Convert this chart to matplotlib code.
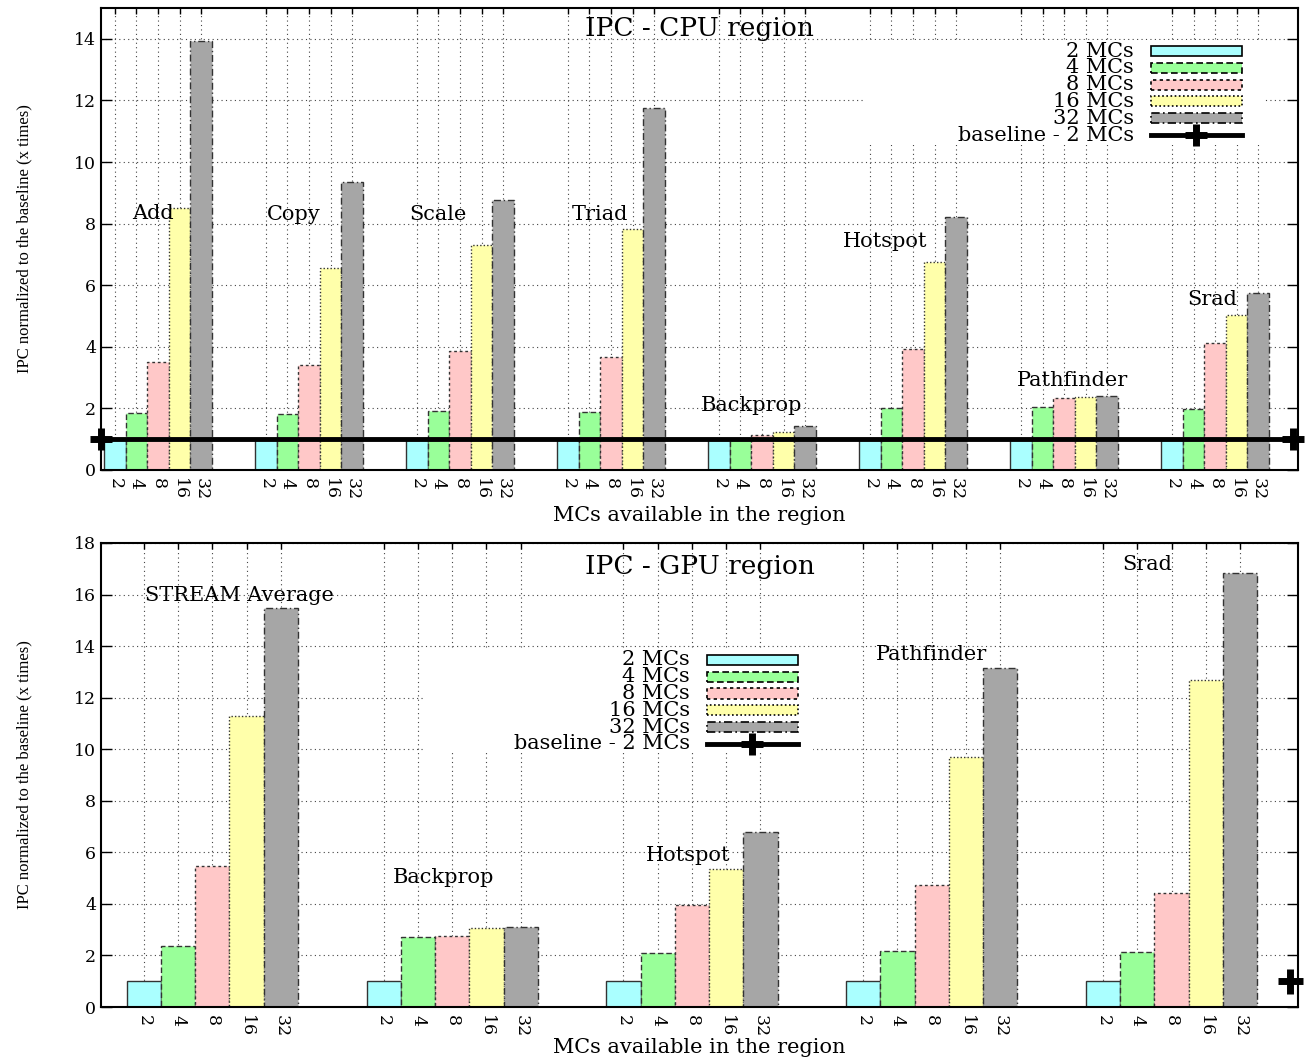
import matplotlib
matplotlib.use("Agg")
import matplotlib.pyplot as plt
from matplotlib.patches import Rectangle
from matplotlib.lines import Line2D
import matplotlib.transforms as mtransforms

plt.rcParams['font.family'] = ['DejaVu Serif']

# ---------------- data ----------------
mc_labels = ['2', '4', '8', '16', '32']
series_names = ['2 MCs', '4 MCs', '8 MCs', '16 MCs', '32 MCs']

cpu_benchmarks = ['Add', 'Copy', 'Scale', 'Triad', 'Backprop', 'Hotspot', 'Pathfinder', 'Srad']
cpu_mc2 = [1.0, 1.0, 1.0, 1.0, 1.0, 1.0, 1.0, 1.0]
cpu_mc4 = [1.85, 1.81, 1.91, 1.88, 1.0, 2.0, 2.04, 1.98]
cpu_mc8 = [3.5, 3.4, 3.86, 3.66, 1.13, 3.92, 2.33, 4.12]
cpu_mc16 = [8.52, 6.55, 7.29, 7.81, 1.23, 6.74, 2.37, 5.02]
cpu_mc32 = [13.93, 9.36, 8.78, 11.76, 1.43, 8.2, 2.4, 5.74]

gpu_benchmarks = ['STREAM Average', 'Backprop', 'Hotspot', 'Pathfinder', 'Srad']
gpu_mc2 = [1.0, 1.0, 1.0, 1.0, 1.0]
gpu_mc4 = [2.37, 2.72, 2.09, 2.17, 2.13]
gpu_mc8 = [5.47, 2.75, 3.96, 4.73, 4.42]
gpu_mc16 = [11.29, 3.06, 5.35, 9.7, 12.68]
gpu_mc32 = [15.48, 3.1, 6.79, 13.15, 16.83]

baseline = 1.0

# annotation positions (slot units, value units)
cpu_label_x = [1.77, 8.3, 15.0, 22.5, 29.5, 35.7, 44.4, 50.85]
cpu_label_y = [8.33, 8.3, 8.3, 8.3, 2.1, 7.42, 2.92, 5.54]
gpu_label_x = [2.8, 8.75, 15.9, 23.0, 29.3]
gpu_label_y = [15.98, 5.04, 5.86, 13.69, 17.18]

# ---------------- styles ----------------
colors = ['#aaffff', '#99ff99', '#ffc8c8', '#ffffaa', '#a6a6a6']
edge_ls = ['-', (0, (4, 2)), (0, (2, 2)), (0, (1, 1.5)), (0, (5, 2, 1, 2))]
edge_col = '#333333'
FS_TICK = 12.5
FS_LEG = 15
FS_TITLE = 19
FS_LAB = 12
FS_XLAB = 15

fig = plt.figure(figsize=(13.05, 10.59), dpi=100)
ax1 = fig.add_axes([0.0774, 0.5562, 0.9172, 0.4362])
ax2 = fig.add_axes([0.0774, 0.0491, 0.9172, 0.4382])


def draw_panel(ax, series, benchmarks, label_x, label_y, title, ymax, xlim,
               xlabelpad, title_y):
    n = len(benchmarks)
    ticks = []
    ticklabels = []
    for j, vals in enumerate(series):
        xs = [7 * i + j for i in range(n)]
        ax.bar(xs, vals, width=1.0, color=colors[j], edgecolor=edge_col,
               linewidth=1.0, linestyle=edge_ls[j], zorder=2)
    for i in range(n):
        for j in range(5):
            ticks.append(7 * i + j)
            ticklabels.append(mc_labels[j])
    ax.set_xticks(ticks)
    ax.set_xticklabels(ticklabels, rotation=270, fontsize=FS_TICK)
    ax.set_xlim(*xlim)
    ax.set_ylim(0, ymax)
    ax.tick_params(axis='y', labelsize=FS_TICK, direction='in', length=8,
                   right=True, width=1)
    ax.tick_params(axis='x', direction='in', length=4, top=True, width=1, pad=6)
    ax.grid(True, linestyle=(0, (1, 3)), color='#444444', linewidth=0.8, zorder=0)
    ax.set_axisbelow(True)
    for s in ax.spines.values():
        s.set_linewidth(1.5)
    ax.set_xlabel('MCs available in the region', fontsize=FS_XLAB, labelpad=xlabelpad)
    ax.set_ylabel('IPC normalized to the baseline (x times)', fontsize=FS_LAB,
                  family='Liberation Serif', labelpad=30)
    ax.text(0.5, title_y, title, transform=ax.transAxes, ha='center', va='center',
            fontsize=FS_TITLE, zorder=5)
    for name, lx, ly in zip(benchmarks, label_x, label_y):
        ax.text(lx, ly, name, ha='center', va='center', fontsize=FS_LEG, zorder=5)


def draw_legend(ax, x_text, x0, x1, y_top, dy, h, box):
    bx0, by0, bx1, by1 = box
    ax.add_patch(Rectangle((bx0, by0), bx1 - bx0, by1 - by0, transform=ax.transAxes,
                           facecolor='white', edgecolor='none', zorder=1))
    for j in range(5):
        y = y_top - j * dy
        ax.text(x_text, y, series_names[j], transform=ax.transAxes, ha='right',
                va='center', fontsize=FS_LEG, zorder=6)
        ax.add_patch(Rectangle((x0, y - h / 2), x1 - x0, h, transform=ax.transAxes,
                               facecolor=colors[j], edgecolor='black',
                               linestyle=edge_ls[j], linewidth=1.2, zorder=6))
    y = y_top - 5 * dy
    ax.text(x_text, y, 'baseline - 2 MCs', transform=ax.transAxes, ha='right',
            va='center', fontsize=FS_LEG, zorder=6)
    ax.add_line(Line2D([x0, x1], [y, y], transform=ax.transAxes, color='black',
                       linewidth=3.5, zorder=6))
    ax.add_line(Line2D([(x0 + x1) / 2], [y], transform=ax.transAxes, color='black',
                       marker='+', markersize=16, markeredgewidth=5, zorder=6))


draw_panel(ax1, [cpu_mc2, cpu_mc4, cpu_mc8, cpu_mc16, cpu_mc32], cpu_benchmarks,
           cpu_label_x, cpu_label_y, 'IPC - CPU region', 15, (-0.64, 54.84), 4, 0.955)
ax1.set_yticks(range(0, 15, 2))
draw_panel(ax2, [gpu_mc2, gpu_mc4, gpu_mc8, gpu_mc16, gpu_mc32], gpu_benchmarks,
           gpu_label_x, gpu_label_y, 'IPC - GPU region', 18, (-1.25, 33.69), 0, 0.95)
ax2.set_yticks(range(0, 19, 2))

# baselines
ax1.axhline(baseline, color='black', linewidth=3.5, zorder=4)
bt1 = mtransforms.blended_transform_factory(ax1.transAxes, ax1.transData)
ax1.plot([0.0, 0.996], [baseline, baseline], transform=bt1, linestyle='none',
         marker='+', markersize=16, markeredgewidth=5, color='black', zorder=5,
         clip_on=False)
bt2 = mtransforms.blended_transform_factory(ax2.transAxes, ax2.transData)
ax2.plot([0.993], [baseline], transform=bt2, linestyle='none', marker='+',
         markersize=18, markeredgewidth=5, color='black', zorder=5, clip_on=False)

draw_legend(ax1, 0.863, 0.877, 0.953, 0.907, 0.0364, 0.0216,
            (0.638, 0.703, 0.971, 0.931))
draw_legend(ax2, 0.492, 0.506, 0.582, 0.748, 0.0362, 0.0216,
            (0.269, 0.550, 0.595, 0.769))

fig.savefig('out.png', dpi=100)
